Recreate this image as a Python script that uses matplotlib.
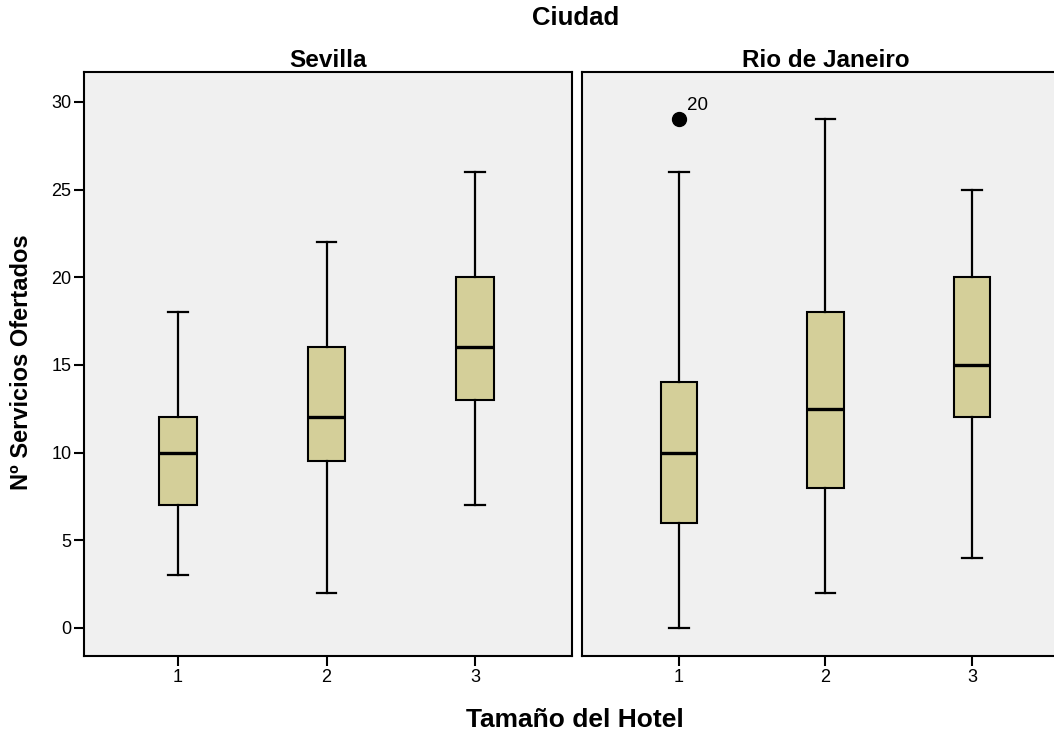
import matplotlib.pyplot as plt

plt.rcParams['font.family'] = ['Liberation Sans', 'DejaVu Sans']

ciudades = ['Sevilla', 'Rio de Janeiro']
tamanos = [1, 2, 3]

# bigotes inferiores, Q1, mediana, Q3, bigotes superiores
sev_lo = [3, 2, 7]
sev_q1 = [7, 9.5, 13]
sev_med = [10, 12, 16]
sev_q3 = [12, 16, 20]
sev_hi = [18, 22, 26]

rio_lo = [0, 2, 4]
rio_q1 = [6, 8, 12]
rio_med = [10, 12.5, 15]
rio_q3 = [14, 18, 20]
rio_hi = [26, 29, 25]

rio_out_x = [1]
rio_out_y = [29]
rio_out_lab = ['20']

datos = [
    (sev_lo, sev_q1, sev_med, sev_q3, sev_hi, [], [], []),
    (rio_lo, rio_q1, rio_med, rio_q3, rio_hi, rio_out_x, rio_out_y, rio_out_lab),
]

fig = plt.figure(figsize=(10.54, 7.33), dpi=100)
W, H = 1054, 733
axes = [fig.add_axes([84 / W, 1 - 656 / H, 488 / W, 584 / H]),
        fig.add_axes([582 / W, 1 - 656 / H, 488 / W, 584 / H])]
xlims = [(0.367, 3.653), (0.338, 3.669)]

for ax, ciudad, d, xl in zip(axes, ciudades, datos, xlims):
    lo, q1, med, q3, hi, ox, oy, olab = d
    stats = []
    for i in range(3):
        stats.append({'whislo': lo[i], 'q1': q1[i], 'med': med[i],
                      'q3': q3[i], 'whishi': hi[i], 'fliers': []})
    ax.bxp(stats, positions=tamanos, widths=0.25, showfliers=False,
           patch_artist=True, capwidths=0.13,
           boxprops=dict(facecolor='#d4cf99', edgecolor='black', linewidth=1.5),
           whiskerprops=dict(color='black', linewidth=1.6),
           capprops=dict(color='black', linewidth=1.6),
           medianprops=dict(color='black', linewidth=2.4))
    ax.plot(ox, oy, 'o', color='black', markersize=10, zorder=5)
    for x, y, t in zip(ox, oy, olab):
        ax.annotate(t, (x, y), xytext=(6, 7), textcoords='offset points',
                    fontsize=13.5)
    ax.set_facecolor('#f0f0f0')
    ax.set_xlim(*xl)
    ax.set_ylim(-1.6, 31.7)
    ax.set_xticks(tamanos)
    ax.set_xticklabels([str(t) for t in tamanos])
    ax.set_title(ciudad, fontsize=17.5, fontweight='bold', pad=1)
    for s in ax.spines.values():
        s.set_linewidth(1.5)
    ax.tick_params(axis='x', direction='out', length=7, width=1.5,
                   labelsize=13, pad=2)

axes[0].set_yticks([0, 5, 10, 15, 20, 25, 30])
axes[0].tick_params(axis='y', direction='out', length=7, width=1.5,
                    labelsize=13, pad=2)
axes[1].set_yticks([])

fig.text(576 / W, 1 - 18 / H, 'Ciudad', ha='center', va='center',
         fontsize=18.5, fontweight='bold')
fig.text(575 / W, 1 - 720 / H, 'Tamaño del Hotel', ha='center', va='center',
         fontsize=19, fontweight='bold')
fig.text(22 / W, 1 - 362 / H, 'Nº Servicios Ofertados', ha='center',
         va='center', rotation=90, fontsize=17, fontweight='bold')

fig.savefig('out.png', dpi=100)
